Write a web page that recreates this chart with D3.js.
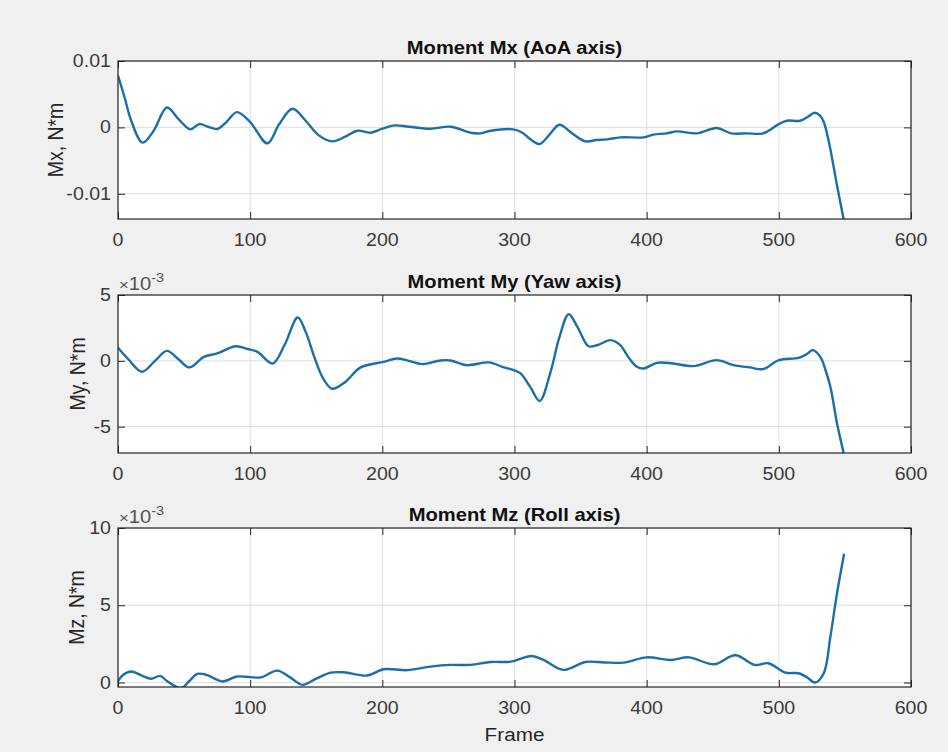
<!DOCTYPE html>
<html><head><meta charset="utf-8">
<script src="https://cdn.jsdelivr.net/npm/d3@7"></script>
<style>body{margin:0;background:#f0f0f0;overflow:hidden} svg{display:block}</style>
</head><body>
<script>
// ---------- data ----------
const frameTicks = [0, 100, 200, 300, 400, 500, 600];

const mxFrames = [0,5,10,18.6,27,37,46,54.7,61.5,68,75,82,90,100,113,122,132,142,152,162,172,181,191,200,209,220,236.5,251.6,266.8,274,282,299,306,312,319,326,334,343,353.6,362,370,380,397.7,405,415,423,438,453,464,476,488,500,506,516,522,527,531,534,538.6,543.6,548.7,552];
const mxValues = [0.0078,0.0045,0.0010,-0.0023,-0.0005,0.0030,0.0012,-0.0003,0.0005,0.0001,-0.00025,0.0008,0.0023,0.0008,-0.0024,0.0005,0.0028,0.0010,-0.0012,-0.0021,-0.0014,-0.0005,-0.0008,-0.0002,0.0003,0.0001,-0.0002,0.0001,-0.0008,-0.0009,-0.0005,-0.0003,-0.0008,-0.0018,-0.0025,-0.0012,0.0004,-0.0008,-0.0021,-0.0019,-0.0018,-0.0015,-0.0015,-0.0011,-0.0009,-0.0006,-0.0009,-0.0001,-0.0009,-0.0009,-0.0009,0.0005,0.0010,0.0010,0.0016,0.0022,0.0018,0.0008,-0.0029,-0.0083,-0.0135,-0.0168];
const mxTicks = [-0.01, 0, 0.01];
const mxTickLabels = ["-0.01", "0", "0.01"];

const myFrames = [0,8,18,28,37,46,54,65,75,89,98,105.5,117,126,136,142,148.5,155,162,172,183.6,201,211,220,230,244,251.6,264,280.6,292,299.5,304.6,312,319,327,334,341,348,356,363,372.5,380,386,392.6,397.7,407.8,420,435.5,453,465.7,478,488,500,515,521,525.7,531.4,535,539,544,549,552];
const myValues = [1.0,0.1,-0.83,0.0,0.76,0.1,-0.5,0.3,0.56,1.11,0.9,0.68,-0.2,1.2,3.29,2.2,0.3,-1.3,-2.12,-1.6,-0.5,-0.08,0.18,0.0,-0.25,0.03,0.03,-0.33,-0.12,-0.5,-0.7,-0.95,-2.0,-3.05,-0.95,1.8,3.54,2.5,1.11,1.2,1.57,1.2,0.3,-0.45,-0.58,-0.15,-0.2,-0.4,0.05,-0.33,-0.5,-0.63,0.05,0.23,0.5,0.81,0.3,-0.6,-1.97,-4.74,-7.0,-8.5]; // x10^-3
const myTicks = [-5, 0, 5];
const myTickLabels = ["-5", "0", "5"];

const mzFrames = [0,4,10,18,25,32,37,47.6,54,60,67,79,90,100,108,120.6,130,139.6,150,161,171,188.6,201,219,236.5,251.6,266.8,282,297,313,322,337,353.6,368,382.6,400,418,432,451,467,482,492,505,515,521,527.5,534,539,544,549.4];
const mzValues = [0.1,0.5,0.71,0.45,0.24,0.43,0.1,-0.36,0.1,0.56,0.5,0.07,0.39,0.35,0.33,0.77,0.35,-0.15,0.25,0.64,0.66,0.45,0.86,0.8,1.03,1.14,1.14,1.33,1.35,1.72,1.46,0.82,1.33,1.3,1.29,1.63,1.46,1.63,1.18,1.76,1.14,1.25,0.64,0.6,0.35,0.0,0.6,2.96,5.76,8.33]; // x10^-3
const mzTicks = [0, 5, 10];
const mzTickLabels = ["0", "5", "10"];

const titles = ["Moment Mx (AoA axis)", "Moment My (Yaw axis)", "Moment Mz (Roll axis)"];
const yLabels = ["Mx, N*m", "My, N*m", "Mz, N*m"];
const xLabel = "Frame";

// ---------- drawing ----------
const W = 948, H = 752, SX = 1.12;
const FONT = "'Liberation Sans', Arial, Helvetica, sans-serif";
const svg = d3.select("body").append("svg").attr("width", W).attr("height", H);
svg.append("rect").attr("width", W).attr("height", H).attr("fill", "#f0f0f0");

const left = 118, right = 911;
const x = d3.scaleLinear().domain([0, 600]).range([left, right]);

function stext(g, px, py, s, size, anchor, opts = {}) {
  const t = g.append("text")
    .attr("transform", `translate(${px},${py}) scale(${SX},1)` + (opts.rotate ? ` rotate(${opts.rotate})` : ""))
    .attr("text-anchor", anchor)
    .attr("font-family", FONT)
    .attr("font-size", size)
    .attr("fill", opts.fill || "#262626")
    .attr("font-weight", opts.bold ? "bold" : "normal");
  if (opts.dy) t.attr("dy", opts.dy);
  t.text(s);
  return t;
}

const panels = [
  { frames: mxFrames, values: mxValues, ticks: mxTicks, labels: mxTickLabels, domain: [-0.0138, 0.01], top: 61, bottom: 219, ylx: 55, exp: false },
  { frames: myFrames, values: myValues, ticks: myTicks, labels: myTickLabels, domain: [-7, 5], top: 295, bottom: 453, ylx: 77, exp: true },
  { frames: mzFrames, values: mzValues, ticks: mzTicks, labels: mzTickLabels, domain: [-0.29, 10], top: 528, bottom: 687, ylx: 76, exp: true }
];

panels.forEach((p, i) => {
  const g = svg.append("g");
  const y = d3.scaleLinear().domain(p.domain).range([p.bottom, p.top]);
  const h = p.bottom - p.top;

  g.append("rect").attr("x", left).attr("y", p.top).attr("width", right - left).attr("height", h).attr("fill", "#ffffff");

  // grid
  const grid = g.append("g").attr("stroke", "#dfdfdf").attr("stroke-width", 1);
  frameTicks.forEach(t => {
    grid.append("line").attr("x1", x(t)).attr("x2", x(t)).attr("y1", p.top).attr("y2", p.bottom);
  });
  p.ticks.forEach(t => {
    grid.append("line").attr("x1", left).attr("x2", right).attr("y1", y(t)).attr("y2", y(t));
  });

  // clipped line
  const clipId = "clip" + i;
  g.append("clipPath").attr("id", clipId).append("rect")
    .attr("x", left).attr("y", p.top).attr("width", right - left).attr("height", h);
  const pts = p.frames.map((f, k) => [f, p.values[k]]);
  const line = d3.line().x(d => x(d[0])).y(d => y(d[1])).curve(d3.curveCatmullRom.alpha(0.5));
  g.append("path").attr("clip-path", `url(#${clipId})`)
    .attr("d", line(pts)).attr("fill", "none")
    .attr("stroke", "#1b6fa9").attr("stroke-width", 2.4).attr("stroke-linejoin", "round");

  // axes via d3 axis (ticks inward)
  const xb = d3.axisBottom(x).tickValues(frameTicks).tickSize(-7).tickFormat("");
  const xt = d3.axisTop(x).tickValues(frameTicks).tickSize(-7).tickFormat("");
  const yl = d3.axisLeft(y).tickValues(p.ticks).tickSize(-7).tickFormat("");
  const yr = d3.axisRight(y).tickValues(p.ticks).tickSize(-7).tickFormat("");
  [[xb, `translate(0,${p.bottom})`], [xt, `translate(0,${p.top})`], [yl, `translate(${left},0)`], [yr, `translate(${right},0)`]]
    .forEach(([ax, tr]) => {
      const a = g.append("g").attr("transform", tr).call(ax);
      a.select(".domain").remove();
      a.selectAll("line").attr("stroke", "#262626").attr("stroke-width", 1);
    });

  // box
  g.append("rect").attr("x", left).attr("y", p.top).attr("width", right - left).attr("height", h)
    .attr("fill", "none").attr("stroke", "#262626").attr("stroke-width", 1.2);

  // tick labels
  frameTicks.forEach(t => stext(g, x(t), p.bottom + 27, String(t), 17.5, "middle", { fill: "#3a3a3a" }));
  p.ticks.forEach((t, k) => stext(g, left - 7, y(t) + 6, p.labels[k], 17.5, "end", { fill: "#3a3a3a" }));

  // exponent
  if (p.exp) {
    const e = g.append("text")
      .attr("transform", `translate(${left + 1},${p.top - 5}) scale(${SX},1)`)
      .attr("font-family", FONT).attr("font-size", 18).attr("fill", "#555");
    e.append("tspan").attr("font-size", 15).text("×");
    e.append("tspan").text("10");
    e.append("tspan").attr("font-size", 13).attr("dy", -8).text("-3");
  }

  // title
  stext(g, (left + right) / 2, p.top - 7, titles[i], 18, "middle", { bold: true, fill: "#111" });

  // y label
  stext(g, p.ylx, (p.top + p.bottom) / 2, yLabels[i], 19.5, "middle", { rotate: -90, dy: "0.35em", fill: "#262626" });
});

stext(svg, (left + right) / 2, 741, xLabel, 18.5, "middle", { fill: "#262626" });
</script>
</body></html>
